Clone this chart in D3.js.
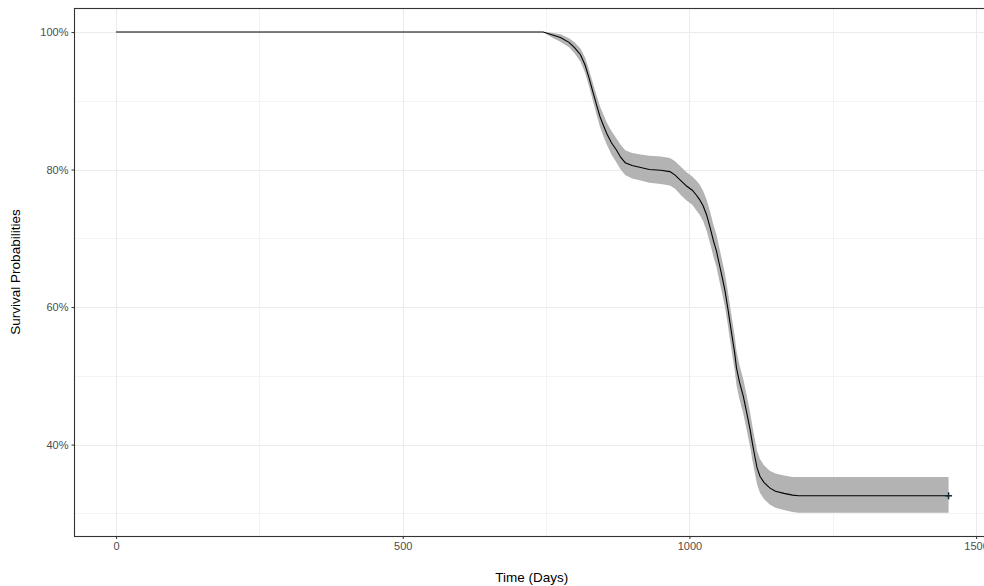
<!DOCTYPE html>
<html>
<head>
<meta charset="utf-8">
<script src="https://cdn.jsdelivr.net/npm/d3@7"></script>
<style>
  body { margin: 0; background: #fff; }
  svg { display: block; font-family: "Liberation Sans", Arial, sans-serif; }
</style>
</head>
<body>
<div id="chart"></div>
<script>
// Kaplan-Meier estimate (days, survival %, CI lower %, CI upper %)
const days  = [0, 745, 760, 775, 790, 800, 810, 818, 825, 832, 838, 844, 850, 856, 864, 873, 880, 888, 900, 915, 930, 950, 966, 975, 985, 995, 1005, 1012, 1018, 1024, 1030, 1036, 1042, 1047, 1052, 1057, 1062, 1067, 1071, 1075, 1079, 1082, 1087, 1094, 1100, 1106, 1110, 1114, 1118, 1123, 1130, 1140, 1150, 1165, 1180, 1190, 1452];
const surv  = [100, 100, 99.6, 99.2, 98.5, 97.7, 96.7, 95.2, 93.3, 91.2, 89.4, 87.7, 86.4, 85.2, 83.9, 82.8, 81.8, 81.0, 80.6, 80.3, 80.0, 79.9, 79.7, 79.2, 78.4, 77.6, 77.0, 76.3, 75.6, 74.7, 73.4, 71.6, 69.6, 68.2, 66.3, 64.4, 62.4, 59.8, 57.6, 55.4, 53.3, 51.2, 49.2, 47.0, 44.6, 42.1, 40.1, 38.3, 36.6, 35.4, 34.5, 33.7, 33.2, 32.9, 32.65, 32.55, 32.55];
const lower = [100, 100, 99.2, 98.6, 97.8, 96.9, 95.7, 94.1, 92.1, 89.9, 88.0, 86.2, 84.8, 83.6, 82.2, 81.0, 80.0, 79.2, 78.7, 78.4, 78.1, 77.9, 77.7, 77.2, 76.3, 75.5, 74.9, 74.1, 73.4, 72.5, 71.1, 69.3, 67.3, 65.9, 63.9, 62.0, 60.0, 57.4, 55.1, 52.9, 50.8, 48.7, 46.7, 44.5, 42.1, 39.6, 37.6, 35.9, 34.2, 33.0, 32.1, 31.3, 30.8, 30.5, 30.2, 30.1, 30.1];
const upper = [100, 100, 99.9, 99.7, 99.1, 98.5, 97.6, 96.3, 94.5, 92.5, 90.8, 89.2, 88.0, 86.8, 85.6, 84.5, 83.6, 82.8, 82.4, 82.2, 82.0, 81.9, 81.7, 81.2, 80.4, 79.6, 79.0, 78.4, 77.8, 76.9, 75.6, 73.9, 71.9, 70.6, 68.7, 66.8, 64.8, 62.3, 60.1, 57.9, 55.8, 53.7, 51.7, 49.5, 47.1, 44.6, 42.6, 40.8, 39.1, 37.9, 37.0, 36.2, 35.8, 35.5, 35.3, 35.3, 35.3];
const censorDays = [1452];
const censorSurv = [32.55];

const xMajor = [0, 500, 1000, 1500];
const xMinor = [250, 750, 1250];
const yMajor = [40, 60, 80, 100];
const yMinor = [30, 50, 70, 90];

const W = 984, H = 586;
const panel = { left: 74.5, top: 8, right: 989, bottom: 536 };

const svg = d3.select("#chart").append("svg").attr("width", W).attr("height", H);

const x = d3.scaleLinear().domain([-72.5, 1522.5]).range([panel.left, panel.right]);
const y = d3.scaleLinear().domain([26.7, 103.5]).range([panel.bottom, panel.top]);

const rows = days.map((d, i) => ({ t: d, s: surv[i], lo: lower[i], hi: upper[i] }));

// grid
const grid = svg.append("g");
grid.selectAll(".xminor").data(xMinor).enter().append("line")
  .attr("x1", d => Math.round(x(d)) + 0.5).attr("x2", d => Math.round(x(d)) + 0.5)
  .attr("y1", panel.top).attr("y2", panel.bottom)
  .attr("stroke", "#F3F3F3").attr("stroke-width", 1);
grid.selectAll(".yminor").data(yMinor).enter().append("line")
  .attr("y1", d => Math.round(y(d)) + 0.5).attr("y2", d => Math.round(y(d)) + 0.5)
  .attr("x1", panel.left).attr("x2", panel.right)
  .attr("stroke", "#F3F3F3").attr("stroke-width", 1);
grid.selectAll(".xmajor").data(xMajor).enter().append("line")
  .attr("x1", d => Math.round(x(d)) + 0.5).attr("x2", d => Math.round(x(d)) + 0.5)
  .attr("y1", panel.top).attr("y2", panel.bottom)
  .attr("stroke", "#EBEBEB").attr("stroke-width", 1);
grid.selectAll(".ymajor").data(yMajor).enter().append("line")
  .attr("y1", d => Math.round(y(d)) + 0.5).attr("y2", d => Math.round(y(d)) + 0.5)
  .attr("x1", panel.left).attr("x2", panel.right)
  .attr("stroke", "#EBEBEB").attr("stroke-width", 1);

// confidence band
svg.append("path")
  .datum(rows)
  .attr("fill", "#B3B3B3")
  .attr("d", d3.area().x(d => x(d.t)).y0(d => y(d.lo)).y1(d => y(d.hi)));

// survival curve
svg.append("path")
  .datum(rows)
  .attr("fill", "none")
  .attr("stroke", "#000")
  .attr("stroke-width", 1.1)
  .attr("d", d3.line().x(d => x(d.t)).y(d => y(d.s)));

// censor marks
const cens = censorDays.map((d, i) => ({ t: d, s: censorSurv[i] }));
svg.selectAll(".cens").data(cens).enter().append("path")
  .attr("d", d3.symbol().type(d3.symbolCross).size(30))
  .attr("transform", d => `translate(${x(d.t)},${y(d.s)})`)
  .attr("fill", "none");
svg.selectAll(".censp").data(cens).enter().append("g")
  .attr("transform", d => `translate(${x(d.t)},${y(d.s)})`)
  .each(function () {
    const g = d3.select(this);
    g.append("line").attr("x1", -3.5).attr("x2", 3.5).attr("y1", 0).attr("y2", 0).attr("stroke", "#0f2a33").attr("stroke-width", 1.5);
    g.append("line").attr("x1", 0).attr("x2", 0).attr("y1", -3.5).attr("y2", 3.5).attr("stroke", "#0f2a33").attr("stroke-width", 1.5);
  });

// panel border
svg.append("rect")
  .attr("x", panel.left).attr("y", panel.top + 0.5)
  .attr("width", panel.right - panel.left).attr("height", panel.bottom - panel.top)
  .attr("fill", "none").attr("stroke", "#333").attr("stroke-width", 1.1);

// axes
const xAxis = svg.append("g")
  .attr("transform", `translate(0,${panel.bottom})`)
  .call(d3.axisBottom(x).tickValues(xMajor).tickSize(3).tickSizeOuter(0).tickPadding(3).tickFormat(d3.format("d")));
const yAxis = svg.append("g")
  .attr("transform", `translate(${panel.left},0)`)
  .call(d3.axisLeft(y).tickValues(yMajor).tickSize(3).tickSizeOuter(0).tickPadding(3).tickFormat(d => d + "%"));

[xAxis, yAxis].forEach(a => {
  a.select(".domain").remove();
  a.selectAll(".tick line").attr("stroke", "#333");
  a.selectAll(".tick text").attr("fill", "#4D4D4D").style("font-size", "11px")
    .style("font-family", "'Liberation Sans', Arial, sans-serif");
});

// titles
svg.append("text")
  .attr("x", (panel.left + panel.right) / 2).attr("y", 582)
  .attr("text-anchor", "middle").style("font-size", "13.5px").attr("fill", "#000")
  .text("Time (Days)");
svg.append("text")
  .attr("transform", `translate(20,${(panel.top + panel.bottom) / 2}) rotate(-90)`)
  .attr("text-anchor", "middle").style("font-size", "13.5px").attr("fill", "#000")
  .text("Survival Probabilities");
</script>
</body>
</html>
